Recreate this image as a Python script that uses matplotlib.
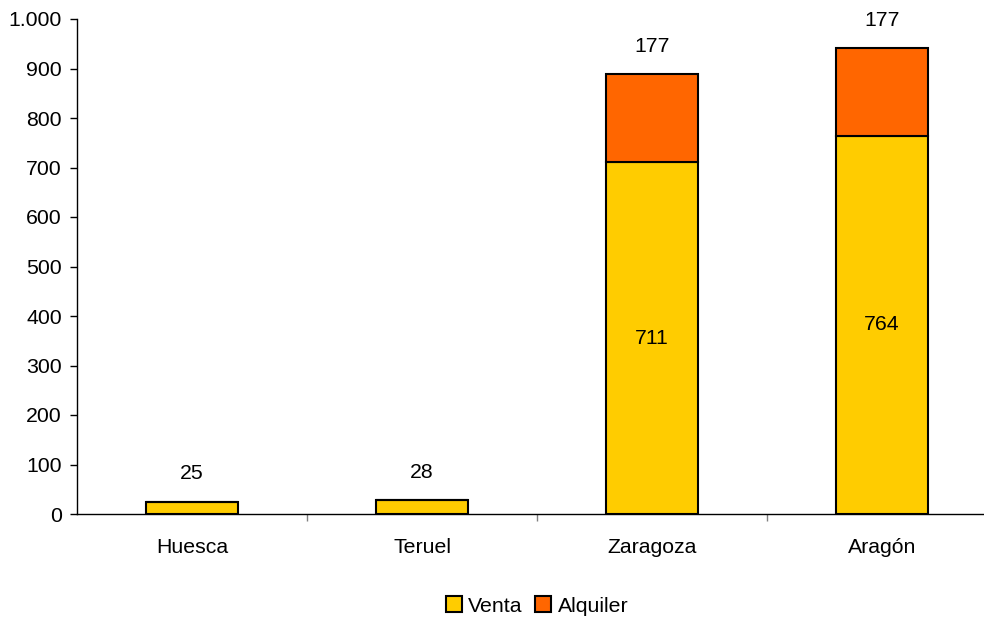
import matplotlib
matplotlib.use("Agg")
import matplotlib.pyplot as plt
from matplotlib.ticker import FixedLocator, FuncFormatter

plt.rcParams['font.family'] = ['Liberation Sans', 'DejaVu Sans']

categories = ["Huesca", "Teruel", "Zaragoza", "Aragón"]
venta = [25, 28, 711, 764]
alquiler = [0, 0, 177, 177]
top_labels = ["25", "28", "177", "177"]
inner_labels = ["", "", "711", "764"]

fig = plt.figure(figsize=(9.84, 6.18), dpi=100)
ax = fig.add_axes([77/984, 104/618, 920/984, 495/618])

x = list(range(len(categories)))
w = 0.4
ax.bar(x, venta, width=w, color="#FFCC00", edgecolor="black", linewidth=1.5, label="Venta", zorder=3)
ax.bar(x, alquiler, width=w, bottom=venta, color="#FF6600", edgecolor="black", linewidth=1.5, label="Alquiler", zorder=3)

fs = 15.3
for i in x:
    total = venta[i] + alquiler[i]
    ax.annotate(top_labels[i], (i, total), xytext=(0, 20), textcoords="offset points",
                ha="center", va="center", fontsize=fs, color="black")
    if inner_labels[i]:
        ax.text(i, venta[i] / 2, inner_labels[i], ha="center", va="center", fontsize=fs, color="black")

ax.set_xlim(-0.5, len(categories) - 0.5)
ax.set_ylim(0, 1000)
ax.yaxis.set_major_locator(FixedLocator(range(0, 1001, 100)))
ax.yaxis.set_major_formatter(FuncFormatter(lambda v, p: f"{int(v):,}".replace(",", ".")))
ax.set_xticks(x)
ax.set_xticklabels(categories, fontsize=fs)
ax.xaxis.set_minor_locator(FixedLocator([i + 0.5 for i in x[:-1]]))
ax.tick_params(axis="x", which="major", length=0, pad=17)
ax.tick_params(axis="x", which="minor", length=5, width=1, color="#808080", direction="out")
ax.tick_params(axis="y", length=5, width=1, direction="out", labelsize=fs, pad=6)
for s in ["top", "right"]:
    ax.spines[s].set_visible(False)
for s in ["left", "bottom"]:
    ax.spines[s].set_linewidth(1.0)

leg = ax.legend(loc="center", bbox_to_anchor=(0.5, -0.186), ncol=2, frameon=False,
                fontsize=fs, handlelength=0.75, handleheight=0.75, handletextpad=0.3,
                columnspacing=0.6)

fig.savefig("out.png", dpi=100)
